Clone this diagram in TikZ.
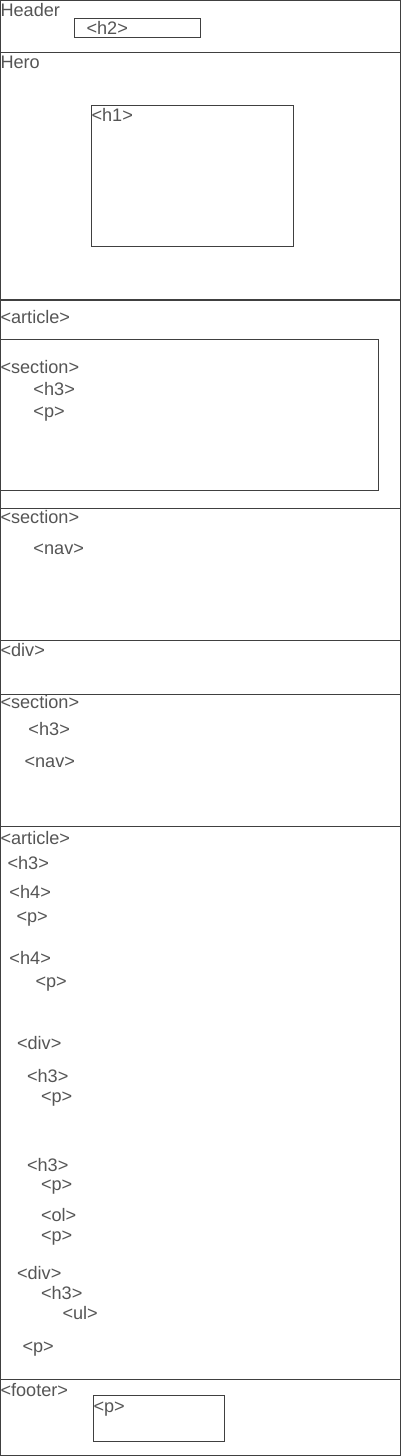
\documentclass[tikz,border=0pt]{standalone}
\usepackage{fontspec}
\setmainfont{Liberation Sans}
\definecolor{wire}{HTML}{404040}
\definecolor{tagtext}{HTML}{555555}
\tikzset{every picture/.style={line width=0.75pt}}
\tikzset{tag/.style={anchor=base west,inner sep=0pt,text=tagtext,font=\fontsize{13.6}{16}\selectfont}}

\begin{document}
\begin{tikzpicture}[x=0.75pt,y=0.75pt,yscale=-1,xscale=1]
\useasboundingbox (0,0) rectangle (401,1456);

%Shape: Rectangle [header]
\draw [color=wire] (0.5,0.5) rectangle (400.5,52.5);
%Shape: Rectangle [h2]
\draw [color=wire] (74.5,18.5) rectangle (200.5,37.5);
%Shape: Rectangle [hero]
\draw [color=wire] (0.5,52.5) rectangle (400.5,299.5);
%Shape: Rectangle [h1]
\draw [color=wire] (91.5,105.5) rectangle (293.5,246.5);
%Shape: Rectangle [article]
\draw [color=wire] (0.5,300.5) rectangle (400.5,508.5);
%Shape: Rectangle [inner section]
\draw [color=wire] (0.5,339.5) rectangle (378.5,490.5);
%Shape: Rectangle [section]
\draw [color=wire] (0.5,508.5) rectangle (400.5,640.5);
%Shape: Rectangle [div]
\draw [color=wire] (0.5,640.5) rectangle (400.5,694.5);
%Shape: Rectangle [section]
\draw [color=wire] (0.5,694.5) rectangle (400.5,826.5);
%Shape: Rectangle [article]
\draw [color=wire] (0.5,826.5) rectangle (400.5,1379.5);
%Shape: Rectangle [footer]
\draw [color=wire] (0.5,1379.5) rectangle (400.5,1455.5);
%Shape: Rectangle [footer p]
\draw [color=wire] (93.5,1395.5) rectangle (224.5,1441.5);

% Text Node
\draw (0,16.5) node [tag] (header) {Header};
% Text Node
\draw (86,34.5) node [tag] (hdrh) {<h2>};
% Text Node
\draw (0,68.5) node [tag] (hero) {Hero};
% Text Node
\draw (91,121) node [tag] (heroh) {<h1>};
% Text Node
\draw (0,323) node [tag] (arta) {<article>};
% Text Node
\draw (0,373) node [tag] (secta) {<section>};
% Text Node
\draw (33,395.5) node [tag] (sectah) {<h3>};
% Text Node
\draw (33,417) node [tag] (sectap) {<p>};
% Text Node
\draw (0,523.5) node [tag] (sectb) {<section>};
% Text Node
\draw (33,554.5) node [tag] (sectbnav) {<nav>};
% Text Node
\draw (0,656.5) node [tag] (diva) {<div>};
% Text Node
\draw (0,708.5) node [tag] (sectc) {<section>};
% Text Node
\draw (28,735.5) node [tag] (sectch) {<h3>};
% Text Node
\draw (24,767) node [tag] (sectcnav) {<nav>};
% Text Node
\draw (0,844) node [tag] (artb) {<article>};
% Text Node
\draw (7,869) node [tag] (artbh) {<h3>};
% Text Node
\draw (9,898) node [tag] (artbha) {<h4>};
% Text Node
\draw (16,922.5) node [tag] (artbpa) {<p>};
% Text Node
\draw (9,964.5) node [tag] (artbhb) {<h4>};
% Text Node
\draw (35,987) node [tag] (artbpb) {<p>};
% Text Node
\draw (16.5,1049) node [tag] (divb) {<div>};
% Text Node
\draw (26.5,1082.5) node [tag] (divbha) {<h3>};
% Text Node
\draw (40.5,1102) node [tag] (divbpa) {<p>};
% Text Node
\draw (26.5,1171) node [tag] (divbhb) {<h3>};
% Text Node
\draw (40.5,1190.5) node [tag] (divbpb) {<p>};
% Text Node
\draw (40.5,1221) node [tag] (divbol) {<ol>};
% Text Node
\draw (40.5,1241) node [tag] (divbpc) {<p>};
% Text Node
\draw (16.5,1279) node [tag] (divc) {<div>};
% Text Node
\draw (40.5,1299) node [tag] (divch) {<h3>};
% Text Node
\draw (62,1319) node [tag] (divcul) {<ul>};
% Text Node
\draw (22,1352.5) node [tag] (artbpc) {<p>};
% Text Node
\draw (0,1396) node [tag] (footer) {<footer>};
% Text Node
\draw (93,1412) node [tag] (footp) {<p>};

\end{tikzpicture}
\end{document}
